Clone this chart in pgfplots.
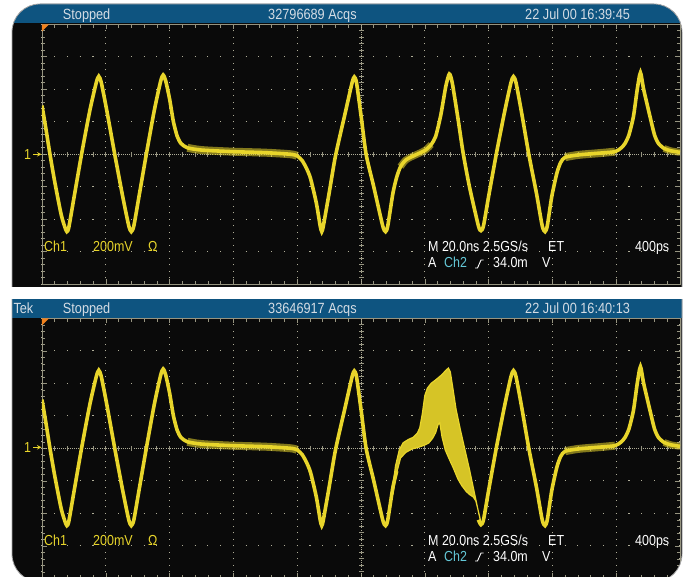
\documentclass[border=0pt]{standalone}
\usepackage{pgfplots}
\pgfplotsset{compat=1.18}
\usepackage{pgfplotstable}
\usepackage{fontspec}
\setmainfont{Liberation Sans}
\newfontfamily\tek[FakeStretch=0.86]{Liberation Sans}
\definecolor{tekblue}{RGB}{14,84,128}
\definecolor{trace}{RGB}{232,213,43}
\definecolor{bandfill}{RGB}{214,196,38}
\definecolor{gridc}{RGB}{150,148,128}
\definecolor{dotc}{RGB}{175,173,152}
\definecolor{hdrtext}{RGB}{212,220,228}
\definecolor{cyanch}{RGB}{100,200,215}
\definecolor{trigorange}{RGB}{240,130,30}
\definecolor{scrbg}{RGB}{10,10,10}

\pgfplotstableread{
x y
0 1.5
0.06 0.8
0.125 0.0
0.2 -0.85
0.3 -1.85
0.36 -2.25
0.39 -2.38
0.42 -2.25
0.5 -1.35
0.62 0.0
0.75 1.35
0.85 2.2
0.89 2.4
0.93 2.2
1.02 1.3
1.14 0.0
1.27 -1.35
1.36 -2.2
1.40 -2.38
1.44 -2.2
1.52 -1.3
1.635 0.0
1.76 1.35
1.86 2.25
1.90 2.44
1.94 2.25
2.0 1.7
2.06 1.0
2.12 0.55
2.18 0.33
2.28 0.2
2.5 0.13
3.0 0.08
3.5 0.05
3.9 0.0
4.0 -0.05
4.08 -0.2
4.15 -0.45
4.21 -0.75
4.3 -1.5
4.36 -2.2
4.385 -2.38
4.41 -2.2
4.5 -1.2
4.6 -0.05
4.75 1.25
4.86 2.2
4.895 2.38
4.93 2.2
5.0 1.2
5.08 0.0
5.2 -1.0
5.34 -2.2
5.385 -2.38
5.42 -2.2
5.5 -1.2
5.56 -0.7
5.62 -0.38
5.7 -0.18
5.80 -0.07
5.9 0.02
6.01 0.13
6.1 0.3
6.17 0.55
6.25 1.2
6.33 2.1
6.385 2.47
6.43 2.2
6.52 1.1
6.6 0.05
6.7 -1.0
6.84 -2.2
6.88 -2.35
6.92 -2.2
7.0 -1.3
7.12 0.0
7.25 1.3
7.35 2.2
7.39 2.39
7.43 2.2
7.52 1.25
7.63 0.0
7.75 -1.2
7.84 -2.2
7.885 -2.38
7.92 -2.2
7.99 -1.3
8.07 -0.58
8.13 -0.25
8.2 -0.09
8.4 -0.02
8.7 0.03
8.98 0.08
9.08 0.2
9.14 0.34
9.2 0.6
9.27 1.16
9.33 2.0
9.38 2.51
9.43 2.0
9.53 1.16
9.6 0.6
9.66 0.34
9.75 0.18
9.85 0.11
10 0.06
}\toptrace

\pgfplotstableread{
x y
5.48 -1.45
5.54 -0.55
5.60 -0.05
5.66 0.17
5.74 0.27
5.82 0.34
5.88 0.46
5.92 0.62
5.96 1.05
6.00 1.62
6.04 1.85
6.10 2.0
6.18 2.12
6.27 2.27
6.33 2.4
6.37 2.47
6.40 2.35
6.44 1.85
6.49 1.2
6.56 0.55
6.63 -0.05
6.70 -0.65
6.77 -1.3
6.84 -1.95
6.88 -2.3
6.86 -2.1
6.80 -1.62
6.76 -1.5
6.70 -1.42
6.65 -1.33
6.58 -1.15
6.52 -0.95
6.45 -0.62
6.38 -0.32
6.32 -0.05
6.27 0.35
6.235 0.78
6.21 0.74
6.17 0.48
6.12 0.3
6.06 0.16
6.0 0.1
5.9 0.03
5.8 -0.02
5.7 -0.13
5.62 -0.3
5.56 -0.75
5.50 -1.4
}\band

\pgfplotsset{tekaxis/.style={
  scale only axis, width=638pt, height=260pt,
  xmin=0, xmax=10, ymin=-4, ymax=4,
  xtick={0,...,10}, ytick={-4,...,4},
  minor x tick num=4, minor y tick num=4,
  xticklabels={}, yticklabels={},
  tick align=inside, major tick length=5pt, minor tick length=3.5pt,
  every tick/.append style={gridc, line width=0.6pt},
  every minor tick/.append style={gridc, line width=0.6pt},
  axis line style={gridc, line width=0.8pt},
  xmajorgrids=true, ymajorgrids=true,
  x grid style={dotc, line width=1.1pt, dash pattern=on 1.1pt off 5.4pt, dash phase=0.55pt},
  y grid style={dotc, line width=1.1pt, dash pattern=on 1.1pt off 11.66pt, dash phase=0.55pt},
  clip=true,
}}

\newcommand\centerlines{%
  \draw[dotc, line width=0.9pt, dash pattern=on 1pt off 1.17pt] (axis cs:5,-4) -- (axis cs:5,4);
  \draw[gridc, line width=5pt, dash pattern=on 0.8pt off 5.7pt, dash phase=0.4pt] (axis cs:5,-4) -- (axis cs:5,4);
  \draw[dotc, line width=0.9pt, dash pattern=on 1pt off 1.13pt] (axis cs:0,0) -- (axis cs:10,0);
  \draw[gridc, line width=5pt, dash pattern=on 0.8pt off 11.96pt, dash phase=0.4pt] (axis cs:0,0) -- (axis cs:10,0);
  \fill[trigorange] (axis cs:0,4) -- ++(7pt,0pt) -- ++(-7pt,-7pt) -- cycle;
}

\begin{document}
\begin{tikzpicture}
\useasboundingbox (0pt,0pt) rectangle (685pt,576pt);
\fill[white] (0pt,0pt) rectangle (685pt,576pt);
\fill[scrbg, rounded corners=28pt] (12pt,-6pt) rectangle (682pt,572pt);
\begin{scope}
\clip[rounded corners=28pt] (12pt,-6pt) rectangle (682pt,572pt);
% top screen
\begin{axis}[tekaxis, at={(42pt,291.7pt)}, anchor=south west]
\centerlines
\addplot[trace, line width=3.6pt, smooth, tension=0.4] table {\toptrace};
\addplot[trace, opacity=0.55, line width=8pt, smooth, restrict x to domain=2.2:4.02] table {\toptrace};
\addplot[trace, opacity=0.55, line width=7pt, smooth, restrict x to domain=5.6:6.12] table {\toptrace};
\addplot[trace, opacity=0.55, line width=8pt, smooth, restrict x to domain=8.15:9.05] table {\toptrace};
\addplot[trace, opacity=0.55, line width=7pt, smooth, restrict x to domain=9.68:10] table {\toptrace};
\end{axis}
% bottom screen
\begin{axis}[tekaxis, at={(42pt,-2.3pt)}, anchor=south west]
\centerlines
\addplot[fill=bandfill, draw=trace, line width=1.2pt] table {\band} -- cycle;
\addplot[trace, line width=3.6pt, smooth, tension=0.4, restrict x to domain=0:5.57] table {\toptrace};
\addplot[trace, line width=3.6pt, smooth, tension=0.4, restrict x to domain=6.83:10] table {\toptrace};
\addplot[trace, opacity=0.55, line width=8pt, smooth, restrict x to domain=2.2:4.02] table {\toptrace};
\addplot[trace, opacity=0.55, line width=8pt, smooth, restrict x to domain=8.15:9.05] table {\toptrace};
\addplot[trace, opacity=0.55, line width=7pt, smooth, restrict x to domain=9.68:10] table {\toptrace};
\end{axis}
\fill[tekblue] (0pt,552.5pt) rectangle (685pt,580pt);
\fill[tekblue] (0pt,258pt) rectangle (685pt,277pt);
% header texts
\begin{scope}[every node/.style={anchor=base west, inner sep=0pt, text=hdrtext, font=\tek\fontsize{14.8pt}{16pt}\selectfont}]
\node at (62.7pt,556.7pt) {Stopped};
\node at (268pt,556.7pt) {32796689 Acqs};
\node at (525pt,556.7pt) {22 Jul 00 16:39:45};
\node at (13.3pt,262.7pt) {Tek};
\node at (62.7pt,262.7pt) {Stopped};
\node at (268pt,262.7pt) {33646917 Acqs};
\node at (525pt,262.7pt) {22 Jul 00 16:40:13};
\end{scope}
\end{scope}
\draw[gray!70, line width=0.8pt, rounded corners=28pt] (12pt,-6pt) rectangle (682pt,572pt);
\fill[white] (0pt,277pt) rectangle (685pt,289pt);
% readout texts
\begin{scope}[every node/.style={anchor=base west, inner sep=0pt, font=\tek\fontsize{14.5pt}{16pt}\selectfont}]
\foreach \yb in {0,293} {
  \node[text=trace] at (44pt,{324pt-\yb pt}) {Ch1};
  \node[text=trace] at (93pt,{324pt-\yb pt}) {200mV};
  \node[text=trace] at (148pt,{324pt-\yb pt}) {Ω};
  \node[text=white] at (428pt,{324pt-\yb pt}) {M 20.0ns 2.5GS/s};
  \node[text=white] at (548pt,{324pt-\yb pt}) {ET};
  \node[text=white] at (635pt,{324pt-\yb pt}) {400ps};
  \node[text=white] at (428pt,{308pt-\yb pt}) {A};
  \node[text=cyanch] at (444pt,{308pt-\yb pt}) {Ch2};
  \draw[white, line width=0.9pt] (475pt,{308pt-\yb pt}) -- (477.5pt,{308pt-\yb pt}) -- (481pt,{316pt-\yb pt}) -- (483.5pt,{316pt-\yb pt});
  \node[text=white] at (493pt,{308pt-\yb pt}) {34.0m};
  \node[text=white] at (542pt,{308pt-\yb pt}) {V};
  \node[text=trace] at (24pt,{416.7pt-\yb pt}) {1};
  \draw[trace, line width=1pt, -stealth] (33pt,{421.7pt-\yb pt}) -- (41.5pt,{421.7pt-\yb pt});
}
\end{scope}
\end{tikzpicture}
\end{document}
